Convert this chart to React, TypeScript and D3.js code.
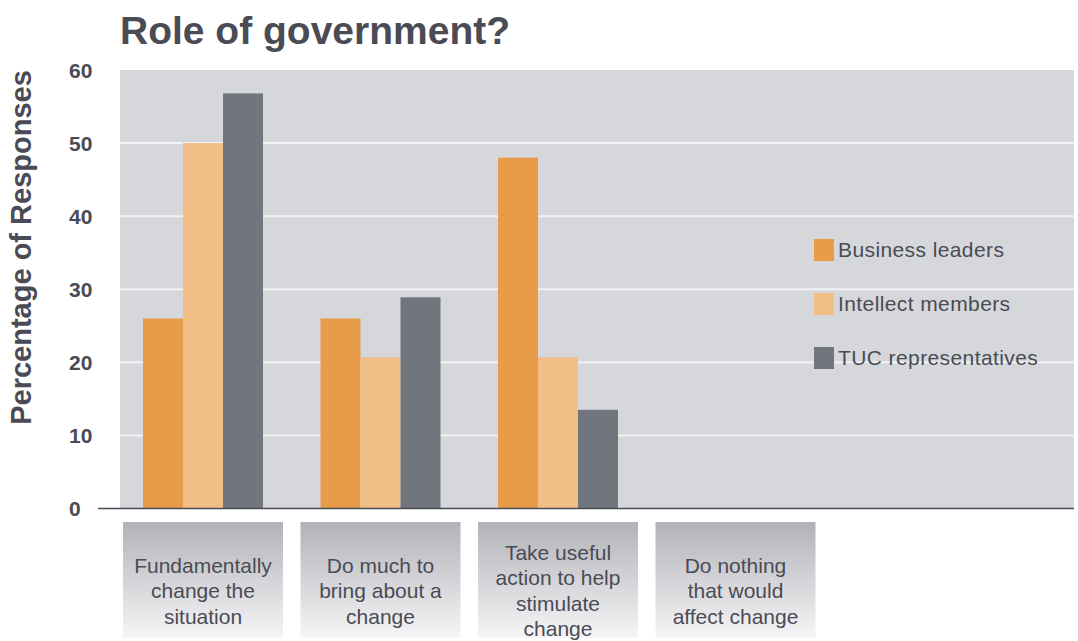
import React from "react";
import * as d3 from "d3";

const categories = ["c1", "c2", "c3", "c4"];
const categoryLines: string[][] = [
  ["Fundamentally", "change the", "situation"],
  ["Do much to", "bring about a", "change"],
  ["Take useful", "action to help", "stimulate", "change"],
  ["Do nothing", "that would", "affect change"],
];
const seriesNames = ["Business leaders", "Intellect members", "TUC representatives"];
const businessLeaders = [26, 26, 48, 0];
const intellectMembers = [50, 20.7, 20.7, 0];
const tucRepresentatives = [56.8, 28.9, 13.5, 0];
const yTicks = [0, 10, 20, 30, 40, 50, 60];
const colors = ["#e89b48", "#f0be86", "#71757e"];

const W = 1078;
const H = 641;
const plotLeft = 120;
const plotRight = 1074;
const plotTop = 70;
const plotBottom = 508.5;
const textColor = "#4a4b55";
const font = "'Liberation Sans', Arial, Helvetica, sans-serif";

export default function App() {
  const seriesValues = [businessLeaders, intellectMembers, tucRepresentatives];
  const y = d3.scaleLinear().domain([0, 60]).range([plotBottom, plotTop]);
  const pad = 57.5 / 177.5;
  const x0 = d3.scaleBand<string>().domain(categories).range([85.5, 853]).padding(pad);
  const x1 = d3.scaleBand<string>().domain(seriesNames).range([0, x0.bandwidth()]);

  return (
    <svg width={W} height={H} style={{ position: "absolute", left: 0, top: 0 }} fontFamily={font}>
      <defs>
        <linearGradient id="boxGrad" x1="0" y1="0" x2="0" y2="1">
          <stop offset="0" stopColor="#b1b2b7" />
          <stop offset="1" stopColor="#f6f6f8" />
        </linearGradient>
      </defs>
      <rect x={0} y={0} width={W} height={H} fill="#ffffff" />
      <text x={120} y={44} fontSize={39} fontWeight="bold" fill={textColor}>
        Role of government?
      </text>
      <rect x={plotLeft} y={plotTop} width={plotRight - plotLeft} height={plotBottom - plotTop} fill="#d6d7db" />
      {yTicks.filter((t) => t > 0 && t < 60).map((t) => (
        <line key={t} x1={plotLeft} x2={plotRight} y1={y(t)} y2={y(t)} stroke="#f2f2f4" strokeWidth={2} />
      ))}
      {yTicks.map((t) => (
        <text key={t} x={69} y={y(t) + 7.5} fontSize={21} fontWeight="bold" fill={textColor}>
          {t}
        </text>
      ))}
      <text
        transform={`translate(31,${(plotTop + 425) / 2}) rotate(-90)`}
        textAnchor="middle"
        fontSize={29}
        fontWeight="bold"
        fill={textColor}
      >
        Percentage of Responses
      </text>
      {categories.map((c, ci) => (
        <g key={c} transform={`translate(${x0(c)},0)`}>
          {seriesNames.map((s, si) => {
            const v = seriesValues[si][ci];
            if (v <= 0) return null;
            return (
              <rect key={s} x={x1(s)} y={y(v)} width={x1.bandwidth()} height={plotBottom - y(v)} fill={colors[si]} />
            );
          })}
        </g>
      ))}
      <line x1={98} x2={plotRight} y1={plotBottom} y2={plotBottom} stroke={textColor} strokeWidth={1.5} />
      {categories.map((c, ci) => {
        const cx = (x0(c) as number) + x0.bandwidth() / 2;
        const lines = categoryLines[ci];
        const lh = 25.5;
        const first = 598 - ((lines.length - 1) * lh) / 2;
        return (
          <g key={c}>
            <rect x={cx - 80} y={522} width={160} height={116} fill="url(#boxGrad)" />
            {lines.map((l, li) => (
              <text key={li} x={cx} y={first + li * lh} textAnchor="middle" fontSize={21} fill={textColor}>
                {l}
              </text>
            ))}
          </g>
        );
      })}
      {seriesNames.map((s, si) => (
        <g key={s} transform={`translate(814,${239 + si * 54})`}>
          <rect x={0} y={0} width={20} height={22} fill={colors[si]} />
          <text x={24} y={18} fontSize={21} letterSpacing={0.4} fill={textColor}>
            {s}
          </text>
        </g>
      ))}
    </svg>
  );
}
